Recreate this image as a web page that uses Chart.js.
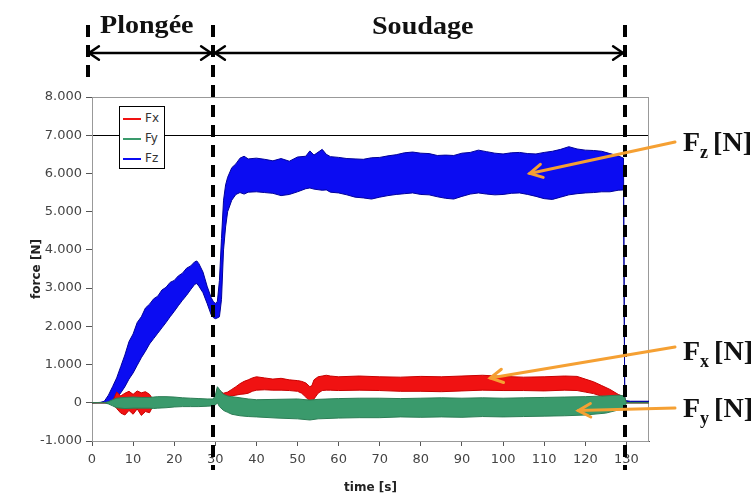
<!DOCTYPE html>
<html>
<head>
<meta charset="utf-8">
<script src="https://cdn.jsdelivr.net/npm/chart.js@4.4.0/dist/chart.umd.min.js"></script>
<style>
  body { margin: 0; background: #fff; }
  #wrap { position: relative; width: 756px; height: 498px; overflow: hidden; }
  #chart { position: absolute; left: 0; top: 0; }
  .note {
    position: absolute;
    font-family: "Liberation Serif", "Times New Roman", serif;
    font-weight: bold;
    color: #111;
    line-height: 1;
    white-space: nowrap;
    transform-origin: left top;
  }
  .phase { font-size: 26px; transform: scaleX(1.08); }
  .force { font-size: 28px; }
  .force span { font-size: 18px; position: relative; top: 7px; margin-right: 5px; }
  #legend {
    position: absolute;
    left: 119px; top: 106px;
    width: 46px; height: 63px;
    box-sizing: border-box;
    border: 1px solid #000;
    background: #fff;
    padding-top: 1px;
    font-family: "DejaVu Sans", sans-serif;
    font-size: 12px;
    color: #333;
  }
  #legend div { height: 20px; line-height: 20px; white-space: nowrap; }
  #legend i { display: inline-block; width: 18px; height: 2px; margin: 0 4px 0 3px; vertical-align: middle; }
</style>
</head>
<body>
<div id="wrap">
  <canvas id="chart" width="756" height="498"></canvas>
  <div class="note phase" style="left:100px; top:12px;">Plongée</div>
  <div class="note phase" style="left:372px; top:13px;">Soudage</div>
  <div class="note force" style="left:683px; top:128px;">F<span>z</span>[N]</div>
  <div class="note force" style="left:683px; top:337px;">F<span>x</span>[N]</div>
  <div class="note force" style="left:683px; top:394px;">F<span>y</span>[N]</div>
  <div id="legend"></div>
</div>
<script>
// series names and colours
const seriesNames = ["Fx", "Fy", "Fz"];
const seriesColors = ["#f01212", "#3a9a6c", "#0b0cf2"];
const seriesEdges = ["#c80000", "#2c7d55", "#00009a"];

// Fz envelope (upper / lower) in N
const fzTime = [0, 2, 3, 4, 5, 6, 7, 8, 9, 10, 11, 12, 13, 14, 15, 16, 17, 18, 19, 20, 21, 22, 23, 24, 25, 25.5, 26, 27, 28, 29, 29.5, 30, 30.5, 31, 31.5, 32, 32.5, 33, 34, 35, 36, 37, 38, 40, 42, 44, 46, 48, 50, 52, 53, 54, 56, 57, 58, 60, 62, 64, 66, 68, 70, 72, 74, 76, 78, 80, 82, 84, 86, 88, 90, 92, 94, 96, 98, 100, 102, 104, 106, 108, 110, 112, 114, 116, 118, 120, 122, 124, 126, 128, 129.3, 129.6, 131, 135.5];
const fzHigh = [0, 10, 40, 200, 420, 650, 950, 1250, 1600, 1800, 2100, 2250, 2480, 2580, 2720, 2790, 2950, 3020, 3150, 3200, 3320, 3390, 3520, 3580, 3690, 3710, 3640, 3420, 3050, 2750, 2650, 2600, 2650, 3200, 4300, 5300, 5700, 5900, 6150, 6250, 6400, 6450, 6380, 6400, 6370, 6330, 6390, 6320, 6430, 6450, 6590, 6480, 6630, 6500, 6440, 6420, 6390, 6380, 6370, 6410, 6420, 6460, 6490, 6540, 6560, 6530, 6520, 6470, 6480, 6470, 6530, 6550, 6610, 6570, 6530, 6510, 6540, 6550, 6520, 6510, 6550, 6580, 6630, 6700, 6640, 6610, 6600, 6580, 6520, 6460, 6400, 60, 40, 40];
const fzLow = [0, 0, 0, 0, 30, 120, 260, 420, 620, 780, 980, 1180, 1350, 1540, 1680, 1820, 1960, 2100, 2250, 2390, 2540, 2680, 2810, 2960, 3100, 3120, 3050, 2880, 2600, 2300, 2230, 2200, 2220, 2250, 2700, 4000, 4600, 5000, 5300, 5450, 5500, 5460, 5510, 5520, 5500, 5480, 5420, 5450, 5520, 5600, 5620, 5590, 5560, 5570, 5510, 5490, 5440, 5380, 5360, 5330, 5380, 5420, 5450, 5470, 5490, 5450, 5440, 5390, 5350, 5330, 5400, 5460, 5490, 5460, 5440, 5450, 5480, 5490, 5450, 5400, 5340, 5320, 5380, 5440, 5470, 5490, 5500, 5520, 5520, 5560, 5570, 20, 20, 20];

// Fx envelope
const fxTime = [0, 4, 5, 6, 7, 8, 9, 10, 11, 12, 13, 14, 15, 16, 20, 25, 29, 30, 30.5, 31, 32, 33, 34, 35, 36, 37, 38, 39, 40, 42, 44, 46, 48, 50, 51, 52, 53, 53.5, 54, 55, 56, 57, 58, 60, 65, 70, 75, 80, 85, 90, 95, 100, 105, 110, 115, 118, 120, 122, 124, 126, 128, 129.5, 130, 135.5];
const fxHigh = [0, 0, 30, 280, 180, 250, 300, 220, 310, 260, 290, 220, 60, 40, 30, 30, 30, 100, 380, 300, 250, 280, 350, 420, 500, 560, 600, 650, 680, 650, 620, 640, 600, 580, 560, 520, 420, 450, 600, 680, 700, 720, 700, 680, 700, 680, 670, 690, 680, 700, 720, 690, 670, 680, 700, 690, 620, 550, 450, 350, 220, 150, 0, 0];
const fxLow = [0, 0, -20, -150, -270, -320, -200, -300, -160, -330, -230, -260, -50, -30, -20, -20, -20, 0, 250, 150, 120, 150, 180, 200, 220, 230, 250, 300, 330, 340, 330, 330, 320, 300, 250, 150, 40, 30, 100, 250, 320, 330, 330, 320, 330, 320, 300, 300, 290, 310, 330, 320, 320, 310, 330, 320, 280, 240, 170, 110, 70, 50, 0, 0];

// Fy envelope
const fyTime = [0, 3, 4, 5, 6, 8, 10, 12, 14, 15, 16, 18, 20, 22, 24, 26, 28, 29.5, 30, 30.5, 31, 32, 33, 34, 36, 38, 40, 45, 50, 53, 55, 60, 65, 70, 75, 80, 85, 90, 95, 100, 105, 110, 115, 120, 125, 128, 129.5, 130, 135.5];
const fyHigh = [0, 0, 30, 80, 120, 140, 150, 140, 140, 150, 160, 160, 150, 130, 120, 110, 100, 100, 200, 420, 350, 220, 180, 160, 130, 100, 80, 90, 100, 70, 90, 110, 120, 120, 110, 120, 130, 120, 130, 120, 130, 140, 150, 160, 180, 200, 180, 0, 0];
const fyLow = [0, 0, -30, -80, -130, -150, -140, -140, -140, -150, -140, -130, -110, -100, -100, -100, -90, -80, -60, 0, -100, -200, -250, -300, -340, -360, -370, -400, -420, -450, -420, -400, -390, -390, -370, -380, -370, -380, -360, -370, -360, -350, -340, -320, -270, -190, -150, 0, 0];

// axes
const yTicks = [-1000, 0, 1000, 2000, 3000, 4000, 5000, 6000, 7000, 8000];
const xTicks = [0, 10, 20, 30, 40, 50, 60, 70, 80, 90, 100, 110, 120, 130];
const xMax = 135.5;

// phase limits (s) and arrow targets (t, N)
const phaseTimes = [-1, 29.5, 129.7];
const arrowTargets = [[106.5, 6000], [96.9, 650], [118.3, -205]];

function pts(t, v) { return t.map((x, i) => ({ x: x, y: v[i] })); }

function band(name, t, lo, hi, col, edge, order) {
  return [
    { label: name + " low", data: pts(t, lo), borderColor: edge, borderWidth: 1, pointRadius: 0, fill: false, order: order },
    { label: name, data: pts(t, hi), borderColor: edge, borderWidth: 1, pointRadius: 0, fill: "-1", backgroundColor: col, order: order }
  ];
}

const datasets = [].concat(
  band("Fz", fzTime, fzLow, fzHigh, seriesColors[2], seriesEdges[2], 3),
  band("Fx", fxTime, fxLow, fxHigh, seriesColors[0], seriesEdges[0], 2),
  band("Fy", fyTime, fyLow, fyHigh, seriesColors[1], seriesEdges[1], 1)
);

// html legend
const legend = document.getElementById("legend");
seriesNames.forEach((n, i) => {
  const row = document.createElement("div");
  row.innerHTML = '<i style="background:' + seriesColors[i] + '"></i>' + n;
  legend.appendChild(row);
});

function fmt(v) {
  if (v === 0) return "0";
  return (v / 1000) + ".000";
}

function arrowHead(ctx, x, y, ang, len, spread) {
  ctx.beginPath();
  ctx.moveTo(x + len * Math.cos(ang + spread), y + len * Math.sin(ang + spread));
  ctx.lineTo(x, y);
  ctx.lineTo(x + len * Math.cos(ang - spread), y + len * Math.sin(ang - spread));
  ctx.stroke();
}

function dblArrow(ctx, x0, x1, y) {
  ctx.beginPath();
  ctx.moveTo(x0, y);
  ctx.lineTo(x1, y);
  ctx.stroke();
  arrowHead(ctx, x0, y, 0, 12, 0.6);
  arrowHead(ctx, x1, y, Math.PI, 12, 0.6);
}

const overlay = {
  id: "overlay",
  beforeDatasetsDraw(chart) {
    const a = chart.chartArea;
    const ctx = chart.ctx;
    ctx.save();
    ctx.strokeStyle = "#999";
    ctx.lineWidth = 1;
    ctx.strokeRect(a.left + 0.5, a.top + 0.5, a.right - a.left - 1, a.bottom - a.top);
    ctx.restore();
  },
  afterDraw(chart) {
    const ctx = chart.ctx;
    const xs = chart.scales.x, ys = chart.scales.y;
    const px = phaseTimes.map(t => Math.round(xs.getPixelForValue(t)));
    ctx.save();
    // dashed phase lines
    ctx.strokeStyle = "#000";
    ctx.lineWidth = 4;
    ctx.setLineDash([12, 8]);
    ctx.beginPath();
    ctx.moveTo(px[0], 25); ctx.lineTo(px[0], 84);
    ctx.moveTo(px[1], 25); ctx.lineTo(px[1], 470);
    ctx.moveTo(px[2], 25); ctx.lineTo(px[2], 470);
    ctx.stroke();
    ctx.setLineDash([]);
    // phase arrows
    ctx.lineWidth = 2.5;
    ctx.lineCap = "round";
    dblArrow(ctx, px[0] + 1, px[1] - 2, 53);
    dblArrow(ctx, px[1] + 2, px[2] - 2, 53);
    // orange arrows to the curves
    const tails = [[675, 142], [675, 347], [675, 408]];
    ctx.strokeStyle = "#f5a033";
    ctx.lineWidth = 3;
    arrowTargets.forEach((p, i) => {
      const tx = xs.getPixelForValue(p[0]), ty = ys.getPixelForValue(p[1]);
      const [sx, sy] = tails[i];
      ctx.beginPath();
      ctx.moveTo(sx, sy);
      ctx.lineTo(tx, ty);
      ctx.stroke();
      arrowHead(ctx, tx, ty, Math.atan2(sy - ty, sx - tx), 14, 0.5);
    });
    ctx.restore();
  }
};

new Chart(document.getElementById("chart"), {
  type: "line",
  data: { datasets: datasets },
  options: {
    responsive: false,
    animation: false,
    layout: { padding: { left: 0, right: 107, top: 97, bottom: 0 } },
    plugins: { legend: { display: false }, tooltip: { enabled: false } },
    elements: { line: { tension: 0 } },
    scales: {
      x: {
        type: "linear",
        min: 0,
        max: xMax,
        afterFit(s) { s.height = 57; },
        afterBuildTicks(s) { s.ticks = xTicks.map(v => ({ value: v })); },
        ticks: { color: "#444", padding: 6, maxRotation: 0, autoSkip: false,
          font: { family: "DejaVu Sans", size: 13 } },
        grid: { display: true, drawOnChartArea: false, tickLength: 5, tickColor: "#555" },
        border: { color: "#555", width: 1 },
        title: { display: true, text: "time [s]", color: "#222", padding: { top: 0, bottom: 3 },
          font: { family: "DejaVu Sans", size: 12, weight: "bold" } }
      },
      y: {
        min: -1000,
        max: 8000,
        afterFit(s) { s.width = 92; },
        afterBuildTicks(s) { s.ticks = yTicks.map(v => ({ value: v })); },
        ticks: { color: "#444", padding: 4, callback: v => fmt(v),
          font: { family: "DejaVu Sans", size: 13 } },
        grid: { color: c => (c.tick && c.tick.value === 7000 ? "#000" : "rgba(0,0,0,0)"),
          tickLength: 6, tickColor: "#555" },
        border: { color: "#555", width: 1 },
        title: { display: true, text: "force [N]", color: "#222", padding: { top: 30, bottom: 0 },
          font: { family: "DejaVu Sans", size: 12, weight: "bold" } }
      }
    }
  },
  plugins: [overlay]
});
</script>
</body>
</html>
